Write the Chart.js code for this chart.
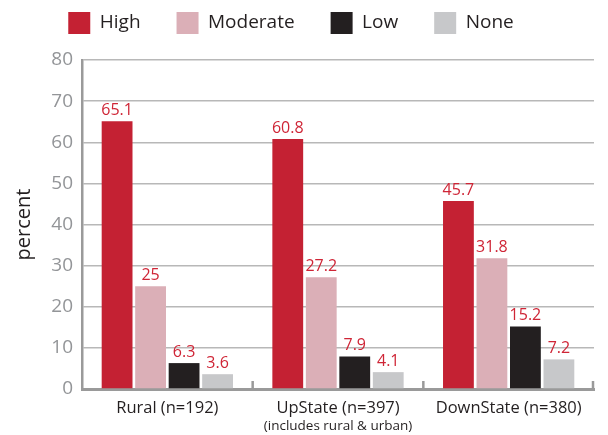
<!DOCTYPE html>
<html>
<head>
<meta charset="utf-8">
<script src="https://cdn.jsdelivr.net/npm/chart.js@4/dist/chart.umd.min.js"></script>
<style>
  html, body { margin: 0; padding: 0; background: #fff; }
  #wrap { width: 608px; height: 435px; position: relative; }
</style>
</head>
<body>
<div id="wrap"><canvas id="chart"></canvas></div>
<script>
// Survey data, percent by region
const categories = ['Rural (n=192)', 'UpState (n=397)', 'DownState (n=380)'];
const subLabels = ['', '(includes rural & urban)', ''];
const seriesNames = ['High', 'Moderate', 'Low', 'None'];
const highVals = [65.1, 60.8, 45.7];
const moderateVals = [25, 27.2, 31.8];
const lowVals = [6.3, 7.9, 15.2];
const noneVals = [3.6, 4.1, 7.2];
const yTicks = [0, 10, 20, 30, 40, 50, 60, 70, 80];

const FONT = "'Open Sans', 'Noto Sans', sans-serif";
const colors = ['#c42133', '#dbafb7', '#231f20', '#c7c8ca'];
const labelRed = '#cf2536';

// Value labels above bars, small sub label, and boundary tick marks
const extrasPlugin = {
    id: 'extras',
    afterLayout(chart) {
        // nudge legend a bit left and up like the original
        const lg = chart.legend;
        lg.left -= 6; lg.right -= 6;
        lg.top -= 24;
    },
    afterDatasetsDraw(chart) {
        const ctx = chart.ctx;
        ctx.save();
        ctx.font = '16px ' + FONT;
        ctx.fillStyle = labelRed;
        ctx.textAlign = 'center';
        ctx.textBaseline = 'bottom';
        chart.data.datasets.forEach((ds, di) => {
            chart.getDatasetMeta(di).data.forEach((bar, i) => {
                ctx.fillText(String(ds.data[i]), bar.x, bar.y - 3);
            });
        });

        const x = chart.scales.x;
        const area = chart.chartArea;
        ctx.strokeStyle = '#9a9a9a';
        ctx.lineWidth = 2.5;
        for (let i = 0; i < categories.length; i++) {
            const px = i < categories.length - 1
                ? (x.getPixelForValue(i) + x.getPixelForValue(i + 1)) / 2
                : area.right - 1;
            ctx.beginPath();
            ctx.moveTo(px, area.bottom);
            ctx.lineTo(px, area.bottom - 8);
            ctx.stroke();
        }

        ctx.font = '13.5px ' + FONT;
        ctx.fillStyle = '#231f20';
        ctx.textBaseline = 'middle';
        subLabels.forEach((s, i) => {
            if (s) ctx.fillText(s, x.getPixelForValue(i), 426);
        });
        ctx.restore();
    }
};

const ctx = document.getElementById('chart').getContext('2d');
const chart = new Chart(ctx, {
    type: 'bar',
    data: {
        labels: categories,
        datasets: [highVals, moderateVals, lowVals, noneVals].map((vals, i) => ({
            label: seriesNames[i],
            data: vals,
            backgroundColor: colors[i],
            borderWidth: 0,
            categoryPercentage: 0.785,
            barPercentage: 0.92
        }))
    },
    options: {
        responsive: true,
        maintainAspectRatio: false,
        animation: false,
        devicePixelRatio: 1,
        layout: { padding: { left: 0, right: 14, top: 0, bottom: 0 } },
        plugins: {
            tooltip: { enabled: false },
            legend: {
                position: 'top',
                maxHeight: 60,
                labels: {
                    boxWidth: 22,
                    boxHeight: 22,
                    padding: 36,
                    color: '#231f20',
                    font: { family: FONT, size: 19 }
                }
            }
        },
        scales: {
            y: {
                min: 0,
                max: 80,
                afterFit(scale) { scale.width = 82; },
                afterBuildTicks(scale) { scale.ticks = yTicks.map(v => ({ value: v })); },
                grid: { color: '#b8b8b8', lineWidth: 1.5, drawTicks: false },
                border: { color: '#9a9a9a', width: 2.5 },
                ticks: {
                    color: '#939598',
                    padding: 9,
                    font: { family: FONT, size: 19 }
                },
                title: {
                    display: true,
                    text: 'percent',
                    color: '#231f20',
                    padding: { top: 12, bottom: 0 },
                    font: { family: FONT, size: 20 }
                }
            },
            x: {
                afterFit(scale) { scale.height = 46; },
                grid: { display: false, drawTicks: false },
                border: { color: '#9a9a9a', width: 3 },
                ticks: {
                    color: '#231f20',
                    padding: 9,
                    font: { family: FONT, size: 16.5 }
                }
            }
        }
    },
    plugins: [extrasPlugin]
});
</script>
</body>
</html>
